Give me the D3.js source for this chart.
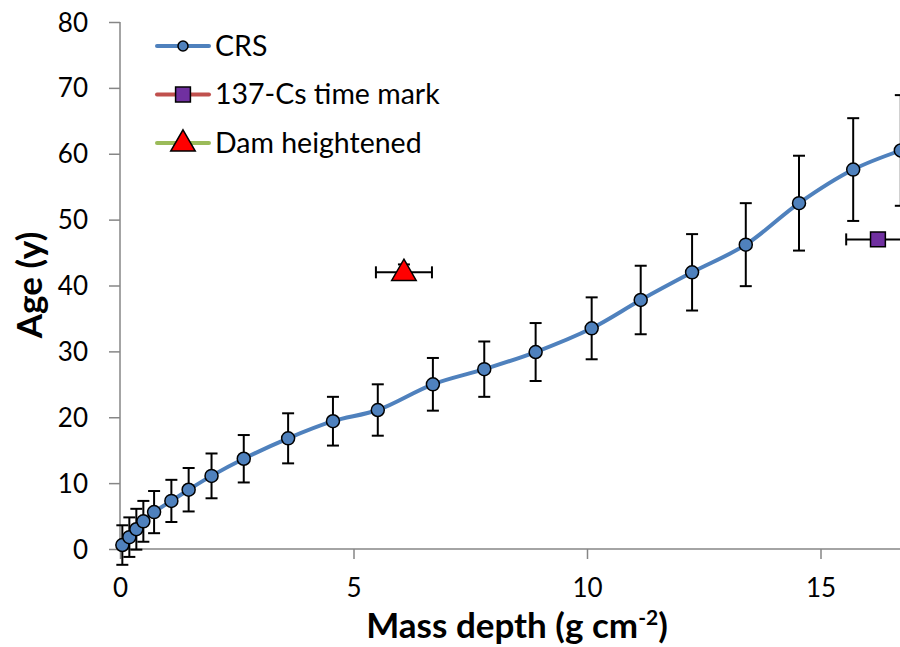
<!DOCTYPE html>
<html>
<head>
<meta charset="utf-8">
<script src="https://cdn.jsdelivr.net/npm/d3@7"></script>
<style>
  body { margin: 0; background: #fff; }
  text { font-family: Lato, "Open Sans", sans-serif; }
</style>
</head>
<body>
<svg id="viz"></svg>
<script>
// data
const crsDepth = [0.05, 0.2, 0.35, 0.5, 0.73, 1.1, 1.47, 1.96, 2.65, 3.6, 4.56, 5.52, 6.7, 7.8, 8.9, 10.1, 11.15, 12.25, 13.4, 14.54, 15.7, 16.72];
const crsAge   = [0.6, 1.8, 3.0, 4.2, 5.6, 7.3, 9.0, 11.1, 13.7, 16.8, 19.4, 21.1, 25.0, 27.3, 29.9, 33.5, 37.8, 42.0, 46.2, 52.5, 57.6, 60.5];
const crsErr   = [3.0, 3.0, 3.1, 3.1, 3.2, 3.2, 3.3, 3.4, 3.6, 3.8, 3.7, 3.9, 4.0, 4.2, 4.4, 4.7, 5.2, 5.8, 6.3, 7.2, 7.8, 8.4];

const csDepth = [16.23], csAge = [47.0], csXErr = [0.68];
const damDepth = [6.08], damAge = [42.0], damXErr = [0.6], damYErr = [1.2];

const xTicks = [0, 5, 10, 15];
const yTicks = [0, 10, 20, 30, 40, 50, 60, 70, 80];
const legendNames = ["CRS", "137-Cs time mark", "Dam heightened"];

const width = 900, height = 647;
const svg = d3.select("#viz").attr("width", width).attr("height", height);

const x = d3.scaleLinear().domain([0, 20]).range([120, 120 + 46.7 * 20]);
const y = d3.scaleLinear().domain([0, 80]).range([549, 22]);

const axisColor = "#868686";

// axes
const xAxis = svg.append("g").attr("transform", "translate(0,549)")
  .call(d3.axisBottom(x).tickValues(xTicks).tickSize(10).tickPadding(20).tickFormat(d3.format("d")));
const yAxis = svg.append("g").attr("transform", "translate(120,0)")
  .call(d3.axisLeft(y).tickValues(yTicks).tickSize(11).tickPadding(21).tickFormat(d3.format("d")));
[xAxis, yAxis].forEach(function(a) {
  a.select(".domain").attr("stroke", axisColor).attr("stroke-width", 1.5);
  a.selectAll(".tick line").attr("stroke", axisColor).attr("stroke-width", 1.5);
  a.selectAll(".tick text").attr("fill", "#000").style("font-size", "26px");
});
xAxis.select(".domain").attr("d", "M120,0H900");
yAxis.select(".domain").attr("d", "M0,22V549");
yAxis.selectAll(".tick text").attr("dy", "0.35em");

// axis titles
svg.append("text").attr("transform", "translate(42,285) rotate(-90)")
  .attr("text-anchor", "middle").style("font-size", "35px").style("font-weight", "bold")
  .text("Age (y)");
const xt = svg.append("text").attr("x", 517).attr("y", 638)
  .attr("text-anchor", "middle").style("font-size", "35px").style("font-weight", "bold");
xt.append("tspan").text("Mass depth (g cm");
xt.append("tspan").attr("dy", -13).style("font-size", "21px").text("-2");
xt.append("tspan").attr("dy", 13).text(")");

const plot = svg.append("g");
const crs = crsDepth.map((d, i) => ({x: d, y: crsAge[i], e: crsErr[i]}));

// vertical error bars for CRS
const eb = plot.append("g").attr("stroke", "#000").attr("stroke-width", 2);
crs.forEach(function(d) {
  const px = x(d.x), t = y(d.y + d.e), b = y(d.y - d.e);
  eb.append("line").attr("x1", px).attr("x2", px).attr("y1", t).attr("y2", b);
  eb.append("line").attr("x1", px - 6).attr("x2", px + 6).attr("y1", t).attr("y2", t);
  eb.append("line").attr("x1", px - 6).attr("x2", px + 6).attr("y1", b).attr("y2", b);
});

// horizontal error bars for the two marks
function hErr(xs, ys, es) {
  xs.forEach(function(d, i) {
    const l = x(d - es[i]), r = x(d + es[i]), py = y(ys[i]);
    eb.append("line").attr("x1", l).attr("x2", r).attr("y1", py).attr("y2", py);
    eb.append("line").attr("x1", l).attr("x2", l).attr("y1", py - 6).attr("y2", py + 6);
    eb.append("line").attr("x1", r).attr("x2", r).attr("y1", py - 6).attr("y2", py + 6);
  });
}
hErr(csDepth, csAge, csXErr);
hErr(damDepth, damAge, damXErr);
damDepth.forEach(function(d, i) {
  const px = x(d), t = y(damAge[i] + damYErr[i]);
  eb.append("line").attr("x1", px).attr("x2", px).attr("y1", t).attr("y2", y(damAge[i]));
  eb.append("line").attr("x1", px - 6).attr("x2", px + 6).attr("y1", t).attr("y2", t);
});

// CRS smoothed line
const line = d3.line().x(d => x(d.x)).y(d => y(d.y)).curve(d3.curveCatmullRom.alpha(0.5));
plot.append("path").datum(crs).attr("d", line)
  .attr("fill", "none").attr("stroke", "#4F81BD").attr("stroke-width", 4);

plot.selectAll("circle.crs").data(crs).enter().append("circle")
  .attr("class", "crs").attr("cx", d => x(d.x)).attr("cy", d => y(d.y)).attr("r", 6.5)
  .attr("fill", "#4F81BD").attr("stroke", "#000").attr("stroke-width", 1.5);

const sq = d3.symbol().type(d3.symbolSquare).size(220);
const tri = d3.symbol().type(d3.symbolTriangle).size(260);

plot.selectAll("path.cs").data(csDepth).enter().append("path")
  .attr("class", "cs").attr("d", sq)
  .attr("transform", (d, i) => "translate(" + x(d) + "," + y(csAge[i]) + ")")
  .attr("fill", "#7030A0").attr("stroke", "#000").attr("stroke-width", 1.5);

plot.selectAll("path.dam").data(damDepth).enter().append("path")
  .attr("class", "dam").attr("d", tri)
  .attr("transform", (d, i) => "translate(" + x(d) + "," + (y(damAge[i]) + 1) + ")")
  .attr("fill", "#FF0000").attr("stroke", "#000").attr("stroke-width", 1.5);

// legend
const legColors = ["#4F81BD", "#C0504D", "#9BBB59"];
const leg = svg.append("g");
legendNames.forEach(function(name, i) {
  const ly = 46 + i * 48.5;
  leg.append("line").attr("x1", 157).attr("x2", 209).attr("y1", ly).attr("y2", ly)
    .attr("stroke", legColors[i]).attr("stroke-width", 4).attr("stroke-linecap", "round");
  if (i === 0) {
    leg.append("circle").attr("cx", 183).attr("cy", ly).attr("r", 5)
      .attr("fill", "#4F81BD").attr("stroke", "#000").attr("stroke-width", 1.5);
  } else if (i === 1) {
    leg.append("path").attr("d", sq).attr("transform", "translate(183," + ly + ")")
      .attr("fill", "#7030A0").attr("stroke", "#000").attr("stroke-width", 1.5);
  } else {
    leg.append("path").attr("d", tri).attr("transform", "translate(183," + (ly + 1) + ")")
      .attr("fill", "#FF0000").attr("stroke", "#000").attr("stroke-width", 1.5);
  }
  leg.append("text").attr("x", 215).attr("y", ly).attr("dy", "0.35em")
    .style("font-size", "28.5px").text(name);
});
</script>
</body>
</html>
